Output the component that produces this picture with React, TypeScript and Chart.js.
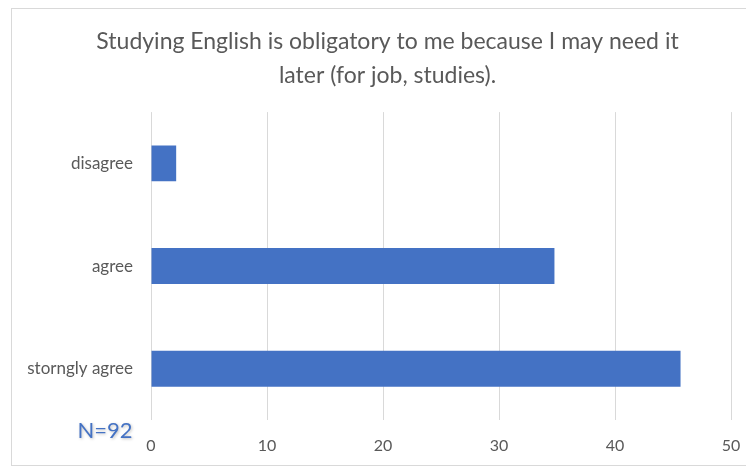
import React, { useEffect, useRef } from "react";
import { Chart, registerables } from "chart.js";

Chart.register(...registerables);

const categories = ["disagree", "agree", "storngly agree"];
const values = [2.17, 34.78, 45.65];
const titleLines = [
  "Studying English is obligatory to me because I may need it",
  "later (for job, studies).",
];
const noteText = "N=92";
const xMin = 0;
const xMax = 50;
const xStep = 10;

const FONT = "Lato, 'Open Sans', sans-serif";

const framePlugin = {
  id: "frame",
  afterLayout(chart: any) {
    const tb = chart.titleBlock;
    if (tb) {
      tb.left += 44;
      tb.width -= 0;
      tb.right += 0;
    }
  },
  beforeDraw(chart: any) {
    const ctx = chart.ctx;
    ctx.save();
    ctx.fillStyle = "#ffffff";
    ctx.fillRect(0, 0, chart.width, chart.height);
    ctx.strokeStyle = "#d9d9d9";
    ctx.lineWidth = 1;
    ctx.strokeRect(11.5, 8.5, chart.width + 20, 457);
    ctx.restore();
  },
  afterDraw(chart: any) {
    const ctx = chart.ctx;
    ctx.save();
    ctx.font = `22px ${FONT}`;
    ctx.fillStyle = "#4472C4";
    ctx.textAlign = "center";
    ctx.textBaseline = "middle";
    ctx.shadowColor = "rgba(0,0,0,0.25)";
    ctx.shadowBlur = 3;
    ctx.shadowOffsetX = 1;
    ctx.shadowOffsetY = 1;
    ctx.fillText(noteText, 105, 431);
    ctx.restore();
  },
};

export default function App() {
  const ref = useRef<HTMLCanvasElement>(null);
  useEffect(() => {
    document.body.style.margin = "0";
    const chart = new Chart(ref.current!, {
      type: "bar",
      data: {
        labels: categories,
        datasets: [
          {
            data: values,
            backgroundColor: "#4472C4",
            borderWidth: 0,
            barPercentage: 0.35,
            categoryPercentage: 1,
          },
        ],
      },
      options: {
        indexAxis: "y",
        animation: false,
        responsive: false,
        maintainAspectRatio: false,
        layout: { padding: { left: 0, right: 15, top: 0, bottom: 0 } },
        plugins: {
          legend: { display: false },
          tooltip: { enabled: false },
          title: {
            display: true,
            text: titleLines,
            color: "#595959",
            font: { family: FONT, size: 23, weight: "normal", lineHeight: 1.48 },
            padding: { top: 25, bottom: 19 },
          },
        },
        scales: {
          x: {
            min: xMin,
            max: xMax,
            ticks: {
              stepSize: xStep,
              color: "#595959",
              font: { family: FONT, size: 16 },
              padding: 0,
            },
            grid: {
              color: "#d9d9d9",
              drawTicks: true,
              tickLength: 16,
              tickColor: "rgba(0,0,0,0)",
            },
            border: { display: false },
            afterFit(scale: any) {
              scale.height = 48;
            },
          },
          y: {
            ticks: {
              color: "#595959",
              font: { family: FONT, size: 17 },
              padding: 18,
            },
            grid: { display: false, drawTicks: false },
            border: { display: false },
            afterFit(scale: any) {
              scale.width = 151;
            },
          },
        },
      },
      plugins: [framePlugin],
    });
    return () => chart.destroy();
  }, []);
  return <canvas ref={ref} width={746} height={468} style={{ display: "block" }} />;
}
